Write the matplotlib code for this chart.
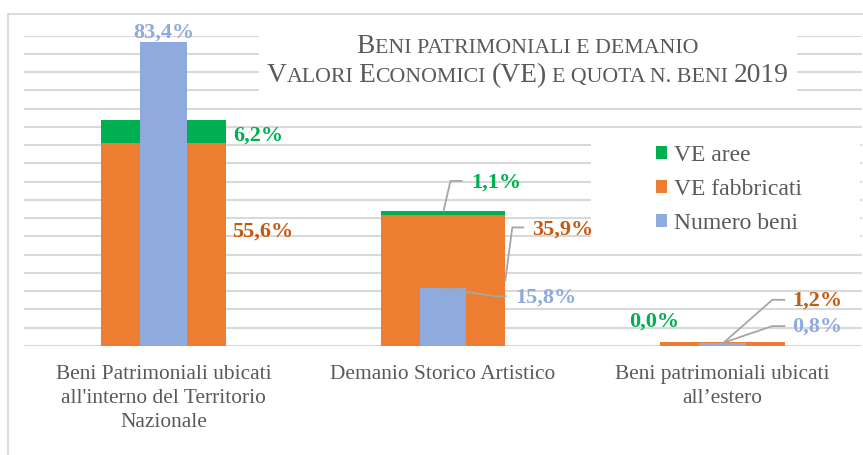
import numpy as np
import matplotlib
matplotlib.use('Agg')
import matplotlib.pyplot as plt
from matplotlib.patches import Rectangle
from matplotlib.lines import Line2D

# data (shares in %)
categories = ["Beni Patrimoniali ubicati\nall'interno del Territorio\nNazionale",
              "Demanio Storico Artistico",
              "Beni patrimoniali ubicati\nall\u2019estero"]
ve_fabbricati = [55.6, 35.9, 1.2]
ve_aree = [6.2, 1.1, 0.0]
numero_beni = [83.4, 15.8, 0.8]
series_names = ['VE aree', 'VE fabbricati', 'Numero beni']

ORANGE = '#ED7D31'
GREEN = '#00B050'
BLUE = '#8FAADC'
ORANGE_TXT = '#C55A11'
GREY = '#595959'
GRID = '#D9D9D9'

plt.rcParams['font.family'] = ['Liberation Serif', 'DejaVu Serif']

W, H = 863, 455
fig = plt.figure(figsize=(W / 100, H / 100), dpi=100)


def fx(px):
    return px / W


def fy(py):
    return 1 - py / H


# outer chart frame
fig.add_artist(Line2D([fx(8), fx(8)], [fy(14), 0], color=GRID, lw=1.3))
fig.add_artist(Line2D([fx(8), 1], [fy(14), fy(14)], color=GRID, lw=1.3))

ax = fig.add_axes([fx(24), fy(346), fx(862) - fx(24), fy(35.7) - fy(346)])
x = np.arange(len(categories))
wide, narrow = 0.446, 0.168

b_fab = ax.bar(x, ve_fabbricati, wide, color=ORANGE, zorder=2, label=series_names[1])
b_are = ax.bar(x, ve_aree, wide, bottom=ve_fabbricati, color=GREEN, zorder=2, label=series_names[0])
b_num = ax.bar(x, numero_beni, narrow, color=BLUE, zorder=3, label=series_names[2])

ax.set_xlim(-0.5, 2.5)
ax.set_ylim(0, 85)
ax.set_yticks(np.arange(0, 86, 5))
ax.yaxis.grid(True, color=GRID, lw=1.5)
ax.set_axisbelow(True)
ax.tick_params(axis='y', length=0, labelleft=False)
ax.tick_params(axis='x', length=0, pad=14, labelsize=15.4, labelcolor=GREY)
ax.set_xticks(x)
ax.set_xticklabels(categories, linespacing=1.34)
for s in ax.spines.values():
    s.set_visible(False)


def pct(v):
    return f"{v:.1f}".replace('.', ',') + '%'


def shift(xd, yd, dx, dy):
    # move a data point by screen pixels (dy downwards like the picture)
    bx, by = ax.transData.transform((xd, yd))
    return ax.transData.inverted().transform((bx + dx, by - dy))


def label(xd, yd, text, color, dx, dy, ha='left', path=None):
    if path:
        pts = np.array([shift(xd, yd, px, py) for px, py in path])
        ax.plot(pts[:, 0], pts[:, 1], color='#A6A6A6', lw=1.3, zorder=4, clip_on=False)
    tx, ty = shift(xd, yd, dx, dy)
    ax.text(tx, ty, text, color=color, fontsize=16, fontweight='bold',
            ha=ha, va='center', zorder=5, clip_on=False)


half = wide / 2
# first category
label(x[0], numero_beni[0], pct(numero_beni[0]), BLUE, 0, -9, ha='center')
label(x[0] + half, ve_fabbricati[0] + ve_aree[0] / 2, pct(ve_aree[0]), GREEN, 7, 4)
label(x[0] + half, ve_fabbricati[0] / 2, pct(ve_fabbricati[0]), ORANGE_TXT, 6, -13)
# second category
label(x[1], ve_fabbricati[1] + ve_aree[1], pct(ve_aree[1]), GREEN, 28, -28,
      path=[(0.5, 0), (7.5, -30), (18.5, -30)])
label(x[1] + half, ve_fabbricati[1] / 2, pct(ve_fabbricati[1]), ORANGE_TXT, 27, -51,
      path=[(0, 0), (7, -53), (18, -53)])
label(x[1], numero_beni[1], pct(numero_beni[1]), BLUE, 72.5, 9,
      path=[(0, 0), (52.5, 8), (62.5, 8)])
# third category
label(x[2], ve_fabbricati[2] + ve_aree[2], pct(ve_aree[2]), GREEN, -68, -20, ha='center')
label(x[2], ve_fabbricati[2] / 2, pct(ve_fabbricati[2]), ORANGE_TXT, 70, -43,
      path=[(0, 0), (50, -44), (62, -44)])
label(x[2], numero_beni[2], pct(numero_beni[2]), BLUE, 70, -16,
      path=[(0, 0), (50, -17), (62, -17)])

# title box (white, hides gridlines) and small caps title
ax.add_patch(Rectangle((fx(259), fy(100)), fx(797) - fx(259), fy(30) - fy(100),
                       transform=fig.transFigure, facecolor='white', edgecolor='none',
                       zorder=1.5, clip_on=False))

BIG, SMALL = 19.8, 15.75
renderer = fig.canvas.get_renderer()


def space_width(size):
    a = fig.text(0, 0, 'a a', fontsize=size)
    b = fig.text(0, 0, 'aa', fontsize=size)
    w = a.get_window_extent(renderer).width - b.get_window_extent(renderer).width
    a.remove()
    b.remove()
    return w


def small_caps_line(parts, cx, base_y):
    items = []
    for s, big in parts:
        size = BIG if big else SMALL
        core = s.strip()
        t = fig.text(0, fy(base_y), core if big else core.upper(), fontsize=size,
                     color=GREY, ha='left', va='baseline', zorder=6)
        w = t.get_window_extent(renderer).width
        sw = space_width(size)
        lead = (len(s) - len(s.lstrip())) * sw
        trail = (len(s) - len(s.rstrip())) * sw
        items.append((t, lead, w, trail))
    total = sum(l + w + tr for _, l, w, tr in items)
    pos = cx - total / 2
    for t, l, w, tr in items:
        pos += l
        t.set_x(fx(pos))
        pos += w + tr


small_caps_line([("B", True), ("eni patrimoniali e demanio", False)], 527.5, 53)
small_caps_line([("V", True), ("alori ", False), ("E", True), ("conomici ", False),
                 ("(VE)", True), (" e quota n. beni ", False), ("2019", True)], 527.5, 82)

# legend with white background
ax.add_patch(Rectangle((fx(591), fy(245)), fx(860) - fx(591), fy(130) - fy(245),
                       transform=fig.transFigure, facecolor='white', edgecolor='none',
                       zorder=1.5, clip_on=False))
leg = ax.legend(handles=[b_are, b_fab, b_num], labels=series_names, loc='upper left',
                bbox_to_anchor=(fx(656), fy(145)), bbox_transform=fig.transFigure,
                frameon=False, fontsize=17, handlelength=0.47, handleheight=0.47,
                handletextpad=0.28, labelspacing=0.55, borderpad=0, borderaxespad=0)
for t in leg.get_texts():
    t.set_color(GREY)

fig.savefig('out.png', dpi=100)
